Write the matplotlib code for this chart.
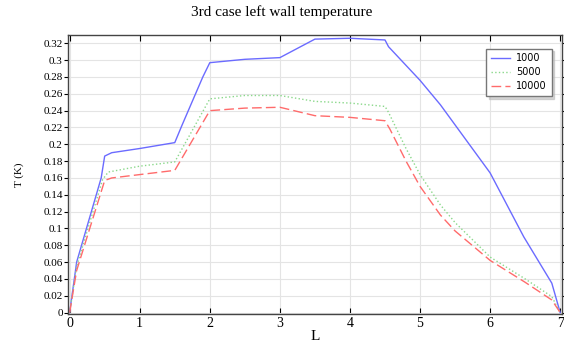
"""
Left wall temperature along L for three cases.
"""

import matplotlib
matplotlib.use('Agg')
import matplotlib.pyplot as plt
import numpy as np

# data
x_1000 = [0, 0.1, 0.45, 0.5, 0.6, 1.0, 1.5, 1.6, 1.9, 2.0, 2.5, 3.0, 3.5, 4.0, 4.5, 4.55,
          5.0, 5.29, 6.0, 6.48, 6.88, 7.0]
t_1000 = [0, 0.06, 0.16, 0.186, 0.19, 0.195, 0.202, 0.222, 0.28, 0.297, 0.301, 0.303, 0.325,
          0.326, 0.324, 0.316, 0.276, 0.247, 0.166, 0.09, 0.035, 0]

x_5000 = [0, 0.1, 0.47, 0.55, 1.0, 1.5, 2.0, 2.5, 3.0, 3.5, 4.0, 4.5, 4.55, 4.8, 5.0, 5.29,
          5.5, 6.0, 6.5, 6.88, 7.0]
t_5000 = [0, 0.055, 0.158, 0.167, 0.174, 0.179, 0.254, 0.258, 0.258, 0.251, 0.249, 0.245,
          0.238, 0.195, 0.164, 0.128, 0.107, 0.066, 0.04, 0.019, 0]

x_10000 = [0, 0.1, 0.5, 0.6, 1.0, 1.5, 2.0, 2.5, 3.0, 3.5, 4.0, 4.5, 4.57, 4.8, 5.0, 5.29,
           5.5, 6.0, 6.5, 6.88, 7.0]
t_10000 = [0, 0.05, 0.157, 0.16, 0.164, 0.169, 0.24, 0.243, 0.244, 0.234, 0.232, 0.228,
           0.218, 0.18, 0.15, 0.116, 0.097, 0.062, 0.036, 0.015, 0]

labels = ['1000', '5000', '10000']
yticks = np.arange(0, 0.33, 0.02)

fig = plt.figure(figsize=(5.64, 3.43), dpi=100)
ax = fig.add_axes([0.121, 0.085, 0.876, 0.812])

ax.plot(x_1000, t_1000, '-', color='#6b6bff', linewidth=1.0, label=labels[0])
ax.plot(x_5000, t_5000, ':', color='#8ad88a', linewidth=1.0, label=labels[1])
ax.plot(x_10000, t_10000, '--', color='#ff6b6b', linewidth=1.0, dashes=(7, 3), label=labels[2])

ax.set_xlim(-0.02, 7.03)
ax.set_ylim(-0.0015, 0.3295)
ax.set_yticks(yticks)
ax.set_yticklabels([f'{v:g}' for v in np.round(yticks, 2)], family='Liberation Serif', fontsize=8)
ax.set_xticks(range(8))
ax.set_xticklabels([str(i) for i in range(8)], family='Liberation Serif', fontsize=10)
ax.tick_params(axis='y', direction='out', length=3, pad=1, right=True)
ax.tick_params(axis='x', direction='in', length=4, pad=2, top=True)
ax.grid(True, color='#e4e4e4', linewidth=0.8)
ax.set_axisbelow(True)
for s in ax.spines.values():
    s.set_color('#444444')
    s.set_linewidth(1.0)

ax.set_xlabel('L', family='Liberation Serif', fontsize=11, labelpad=0)
ax.set_ylabel('T (K)', family='Liberation Serif', fontsize=8, labelpad=14)
fig.suptitle('3rd case left wall temperature', family='Liberation Serif', fontsize=11, y=0.985)

leg = ax.legend(loc='upper right', fontsize=7, fancybox=False,
                shadow={'color': '#bbbbbb', 'alpha': 0.6, 'ox': 2, 'oy': -2},
                framealpha=1, edgecolor='#777777', handlelength=2.0,
                borderpad=0.5, labelspacing=0.4, handletextpad=0.6,
                bbox_to_anchor=(0.988, 0.97))

fig.savefig('out.png', dpi=100)
